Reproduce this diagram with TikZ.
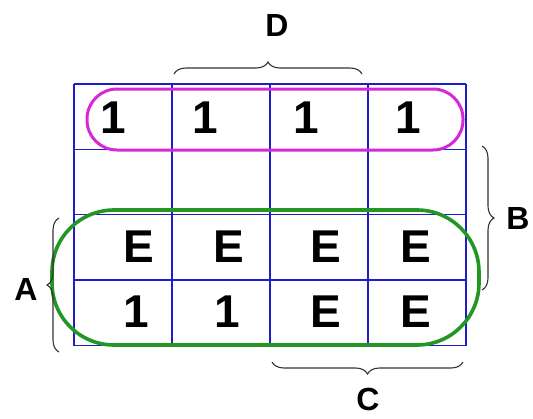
\documentclass[tikz,border=0pt]{standalone}
\usepackage{fontspec}
\setmainfont{Liberation Sans}
\usetikzlibrary{decorations.pathreplacing}
\definecolor{gridblue}{RGB}{30,30,200}
\definecolor{loopmag}{RGB}{215,40,215}
\definecolor{loopgreen}{RGB}{35,150,35}
\tikzset{
  cellval/.style={font=\bfseries\fontsize{46}{46}\selectfont, inner sep=0pt, anchor=center},
  varlabel/.style={font=\bfseries\fontsize{32}{32}\selectfont, inner sep=0pt},
  gridline/.style={draw=gridblue, line width=1.3pt},
  bracestyle/.style={draw=black!80, line width=1.1pt, decorate, decoration={brace, amplitude=12pt}},
}
\begin{document}
\begin{tikzpicture}[x=1pt,y=-1pt]
\useasboundingbox (0,0) rectangle (533,418);
% grid
\foreach \y in {84,149.5,214.5,280,345.5} \draw[gridline] (74,\y) -- (466,\y);
\foreach \x in {74,172,270,368,466} \draw[gridline] (\x,84) -- (\x,345.5);
% loops
\draw[loopmag, line width=3pt, rounded corners=30pt] (87,89) rectangle (463,150);
\draw[loopgreen, line width=3.6pt, rounded corners=62pt] (52,210) rectangle (479,345);
% cell values
\node[cellval] (r1c1) at (113,118) {1};
\node[cellval] (r1c2) at (205,118) {1};
\node[cellval] (r1c3) at (306,118) {1};
\node[cellval] (r1c4) at (408,118) {1};
\node[cellval] (r3c1) at (139,247) {E};
\node[cellval] (r3c2) at (229,247) {E};
\node[cellval] (r3c3) at (326,247) {E};
\node[cellval] (r3c4) at (416,247) {E};
\node[cellval] (r4c1) at (136,312) {1};
\node[cellval] (r4c2) at (227,312) {1};
\node[cellval] (r4c3) at (326,312) {E};
\node[cellval] (r4c4) at (416,312) {E};
% braces
\coordinate (d1) at (174,74); \coordinate (d2) at (362,74);
\draw[bracestyle] (d1) -- (d2);
\node[varlabel] (D) at (277,25) {D};
\coordinate (b1) at (482,146); \coordinate (b2) at (482,290);
\draw[bracestyle] (b1) -- (b2);
\node[varlabel] (B) at (518,218) {B};
\coordinate (a1) at (59,352); \coordinate (a2) at (59,218);
\draw[bracestyle] (a1) -- (a2);
\node[varlabel] (A) at (26,289) {A};
\coordinate (c1) at (463,362); \coordinate (c2) at (272,362);
\draw[bracestyle] (c1) -- (c2);
\node[varlabel] (C) at (368,399) {C};
\end{tikzpicture}
\end{document}
